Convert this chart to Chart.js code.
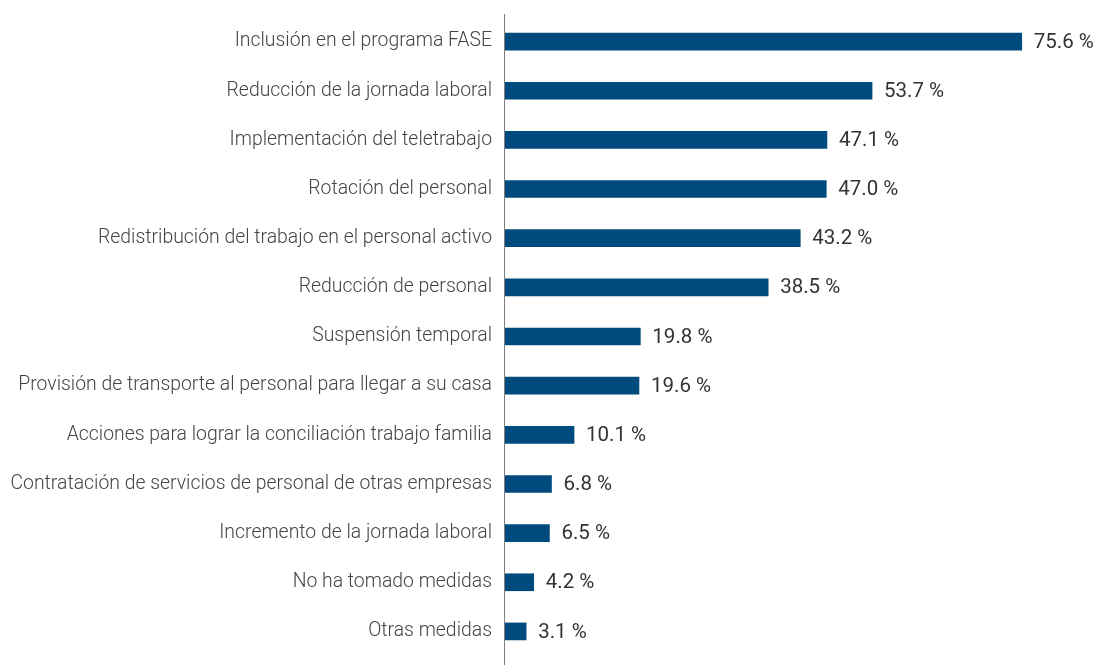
<!DOCTYPE html>
<html lang="es">
<head>
<meta charset="utf-8">
<title>Medidas adoptadas</title>
<script src="https://cdn.jsdelivr.net/npm/chart.js@4/dist/chart.umd.min.js"></script>
<style>
    html, body { margin: 0; padding: 0; background: #ffffff; }
    #chart { display: block; }
</style>
</head>
<body>
<canvas id="chart" width="1096" height="665"></canvas>
<script>
// =============================
// DATA
// =============================
const medidas = [
    "Inclusión en el programa FASE",
    "Reducción de la jornada laboral",
    "Implementación del teletrabajo",
    "Rotación del personal",
    "Redistribución del trabajo en el personal activo",
    "Reducción de personal",
    "Suspensión temporal",
    "Provisión de transporte al personal para llegar a su casa",
    "Acciones para lograr la conciliación trabajo familia",
    "Contratación de servicios de personal de otras empresas",
    "Incremento de la jornada laboral",
    "No ha tomado medidas",
    "Otras medidas"
];

const porcentajes = [75.6, 53.7, 47.1, 47.0, 43.2, 38.5, 19.8, 19.6, 10.1, 6.8, 6.5, 4.2, 3.1];

const BAR_COLOR = "#004b7d";
const TEXT_COLOR = "#333333";
const LABEL_COLOR = "#444444";

// =============================
// PLUGINS
// =============================

// vertical axis line, running from the top of the plot down to the canvas bottom
const axisLine = {
    id: "axisLine",
    afterDatasetsDraw(chart) {
        const ctx = chart.ctx;
        const x = Math.round(chart.scales.x.getPixelForValue(0)) - 0.5;
        ctx.save();
        ctx.strokeStyle = "#7f7f7f";
        ctx.lineWidth = 1;
        ctx.beginPath();
        ctx.moveTo(x, chart.chartArea.top - 3);
        ctx.lineTo(x, chart.height);
        ctx.stroke();
        ctx.restore();
    }
};

// value labels after each bar
const valueLabels = {
    id: "valueLabels",
    afterDatasetsDraw(chart) {
        const ctx = chart.ctx;
        const meta = chart.getDatasetMeta(0);
        ctx.save();
        ctx.font = "400 20.5px Roboto";
        ctx.fillStyle = TEXT_COLOR;
        ctx.textAlign = "left";
        ctx.textBaseline = "middle";
        meta.data.forEach((bar, i) => {
            const v = chart.data.datasets[0].data[i];
            ctx.fillText(v.toFixed(1) + " %", bar.x + 12, bar.y + 1);
        });
        ctx.restore();
    }
};

// =============================
// CHART
// =============================
function loadChart(labels, data) {

    const ctx = document.getElementById("chart");

    if (!ctx) return;

    new Chart(ctx, {
        type: 'bar',
        data: {
            labels: labels,
            datasets: [{
                data: data,
                backgroundColor: BAR_COLOR,
                borderWidth: 0,
                barThickness: 17
            }]
        },
        options: {
            indexAxis: 'y',
            responsive: false,
            animation: false,
            layout: {
                padding: { top: 17, bottom: 9, left: 0, right: 10 }
            },
            plugins: {
                legend: { display: false },
                tooltip: { enabled: false }
            },
            scales: {
                x: {
                    display: false,
                    min: 0,
                    max: 85
                },
                y: {
                    grid: { display: false, drawTicks: false },
                    border: { display: false },
                    afterFit(scale) {
                        scale.width = 505;
                        scale.paddingTop = 0;
                        scale.paddingBottom = 0;
                    },
                    ticks: {
                        color: LABEL_COLOR,
                        padding: 13,
                        font: { family: "Roboto", size: 19.4, weight: 300 }
                    }
                }
            }
        },
        plugins: [axisLine, valueLabels]
    });
}

document.addEventListener("DOMContentLoaded", function () {
    loadChart(medidas, porcentajes);
});
</script>
</body>
</html>
